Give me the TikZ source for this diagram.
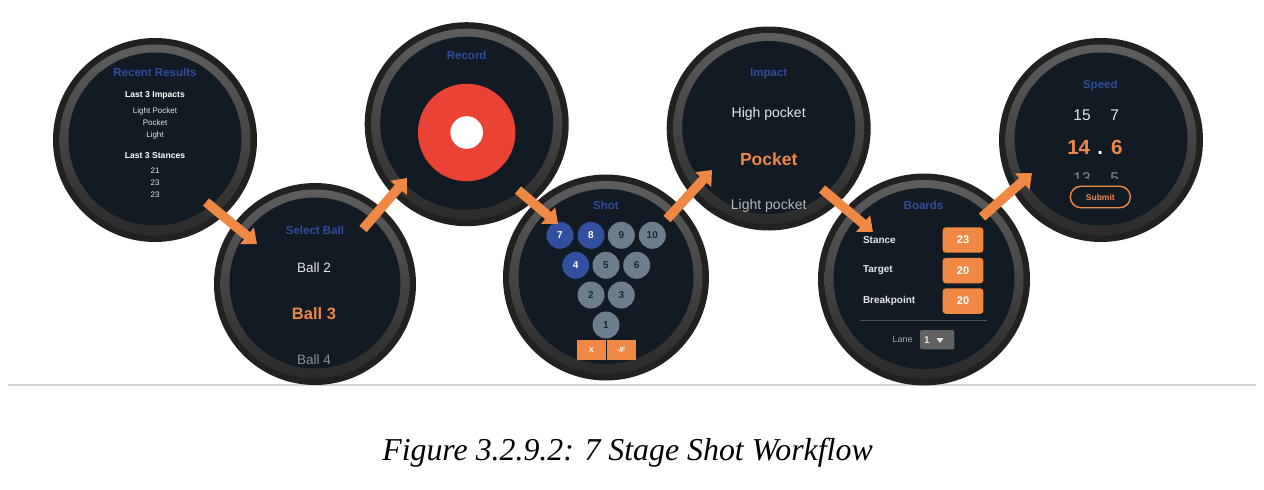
\documentclass[tikz,border=0pt]{standalone}
\usepackage{fontspec}
\setmainfont{Liberation Sans}
\newfontfamily\capfont{Liberation Serif}
\usetikzlibrary{arrows.meta,shapes.geometric}
\definecolor{bezel}{HTML}{212121}
\definecolor{ringtop}{HTML}{5E5E5E}
\definecolor{ringmid}{HTML}{4A4A4A}
\definecolor{ringbot}{HTML}{2A2A2A}
\definecolor{face}{HTML}{121A24}
\definecolor{titleblue}{HTML}{2F4D99}
\definecolor{accent}{HTML}{EE8844}
\definecolor{pingray}{HTML}{6C7D8D}
\definecolor{pinblue}{HTML}{32509F}
\definecolor{pintext}{HTML}{1C2733}
\definecolor{soft}{HTML}{E4E6E8}
\definecolor{dim}{HTML}{8A9096}
\definecolor{tgtred}{HTML}{EA4335}
\tikzset{
  every node/.style={inner sep=0pt,outer sep=0pt},
  bezelc/.style={circle,fill=bezel,draw=none},
  ringc/.style={circle,top color=ringtop,middle color=ringmid,bottom color=ringbot,draw=none},
  facec/.style={circle,fill=face,draw=none},
  wtitle/.style={text=titleblue,font=\fontsize{11.5}{13}\selectfont\bfseries},
  head/.style={text=white,font=\fontsize{8.6}{10}\selectfont\bfseries},
  small/.style={text=soft,font=\fontsize{8}{10}\selectfont},
  pick/.style={text=soft,font=\fontsize{13.5}{15}\selectfont},
  pickdim/.style={text=dim,font=\fontsize{13.5}{15}\selectfont},
  sel/.style={text=accent,font=\fontsize{16.5}{18}\selectfont\bfseries},
  pin/.style={circle,minimum size=27pt,fill=pingray,text=pintext,font=\fontsize{10}{12}\selectfont\bfseries},
  pinon/.style={circle,minimum size=27pt,fill=pinblue,text=white,font=\fontsize{10}{12}\selectfont\bfseries},
  keybtn/.style={rectangle,fill=accent,text=white,minimum height=19.7pt,minimum width=29.3pt,font=\fontsize{7}{8}\selectfont\bfseries},
  rowlab/.style={anchor=west,text=soft,font=\fontsize{10}{12}\selectfont\bfseries},
  valbtn/.style={rectangle,rounded corners=3pt,fill=accent,text=white,minimum width=40.6pt,minimum height=25.4pt,font=\fontsize{11}{13}\selectfont\bfseries},
  flow/.style={draw=accent,line width=9.5pt,-{Triangle[length=13pt,width=21pt]}}
}
\newcommand{\watch}[4]{%
  \node[bezelc,minimum size=#4*2pt] (#1) at (#2,#3) {};
  \node[ringc,minimum size=(#4-6.5)*2pt] (#1ring) at (#2,#3) {};
  \node[facec,minimum size=(#4-15.5)*2pt] (#1face) at (#2,#3-1) {};
}
\begin{document}
\begin{tikzpicture}[x=1pt,y=-1pt]
\useasboundingbox (0,0) rectangle (1264,490);
\fill[white] (0,0) rectangle (1264,490);
% rule
\coordinate (ruleL) at (8,385);
\coordinate (ruleR) at (1256,385);
\draw[draw=black!17,line width=1.2pt] (ruleL) -- (ruleR);
% upper watches
\watch{recent}{155}{140}{102}
\watch{record}{466.7}{124.2}{102}
\watch{impact}{768.7}{128.5}{102}
\watch{speed}{1101}{140}{102}
% lower watches
\watch{ball}{315}{284}{101}
\watch{shot}{606}{277.5}{103}
\watch{boards}{924}{279.5}{106}
% recent results
\node[wtitle] (t1) at (155,72) {Recent Results};
\node[head] (t1a) at (155,95.5) {Last 3 Impacts};
\node[small] (t1b) at (155,111) {Light Pocket};
\node[small] (t1c) at (155,123) {Pocket};
\node[small] (t1d) at (155,135.5) {Light};
\node[head] (t1e) at (155,155.5) {Last 3 Stances};
\node[small] (t1f) at (155,171) {21};
\node[small] (t1g) at (155,183) {23};
\node[small] (t1h) at (155,195) {23};
% select ball
\node[wtitle] (t2) at (315,230) {Select Ball};
\node[pick] (t2a) at (314,268) {Ball 2};
\node[sel] (t2b) at (314,314) {Ball 3};
\node[pickdim] (t2c) at (314,360) {Ball 4};
% record
\node[wtitle] (t3) at (466.7,55) {Record};
\node[circle,fill=tgtred,minimum size=97.5pt] (target) at (466.7,132.5) {};
\node[circle,fill=white,minimum size=32.6pt] (bull) at (466.7,132.5) {};
% shot
\node[wtitle] (t4) at (606,205) {Shot};
\node[pinon] (p7) at (560,235.3) {7};
\node[pinon] (p8) at (591,235.3) {8};
\node[pin] (p9) at (621.3,235.3) {9};
\node[pin] (p10) at (652.3,235.3) {10};
\node[pinon] (p4) at (575.7,265.3) {4};
\node[pin] (p5) at (606,265.3) {5};
\node[pin] (p6) at (636.7,265.3) {6};
\node[pin] (p2) at (591,295) {2};
\node[pin] (p3) at (621.3,295) {3};
\node[pin] (p1) at (606,325) {1};
\node[keybtn] (kx) at (591.5,350.2) {X};
\node[keybtn] (kf) at (621.2,350.2) {-/F};
% impact
\node[wtitle] (t5) at (768.7,74) {Impact};
\node[pick,font=\fontsize{14}{16}\selectfont] (t5a) at (768.7,113.5) {High pocket};
\node[sel,font=\fontsize{17.5}{20}\selectfont\bfseries] (t5b) at (768.7,159) {Pocket};
\begin{scope}
\clip (720,195) rectangle (820,212);
\node[pick,text=soft!80!black,font=\fontsize{14}{16}\selectfont] (t5c) at (768.7,206) {Light pocket};
\end{scope}
% boards
\node[wtitle] (t6) at (923.5,205.5) {Boards};
\node[rowlab] (l1) at (863,240) {Stance};
\node[rowlab] (l2) at (863,270.5) {Target};
\node[rowlab] (l3) at (863,301) {Breakpoint};
\node[valbtn] (v1) at (963,240) {23};
\node[valbtn] (v2) at (963,270.6) {20};
\node[valbtn] (v3) at (963,301.1) {20};
\coordinate (sepL) at (860,320);
\coordinate (sepR) at (986.7,320);
\draw[draw=pingray!60!face,line width=0.9pt] (sepL) -- (sepR);
\node[text=dim!80!white,font=\fontsize{9}{11}\selectfont] (lane) at (902.7,339.7) {Lane};
\node[rectangle,rounded corners=2pt,fill=black!62,minimum width=34.3pt,minimum height=19.3pt] (dd) at (937.2,339.7) {};
\node[text=soft,font=\fontsize{10}{12}\selectfont\bfseries] (dd1) at (927,339.7) {1};
\node[isosceles triangle,isosceles triangle apex angle=70,shape border rotate=-90,fill=soft,minimum height=3.6pt,minimum width=7pt] (ddt) at (940,339.9) {};
% speed
\node[wtitle] (t7) at (1100.3,85.3) {Speed};
\node[pick,font=\fontsize{15.5}{18}\selectfont] (s1) at (1082,115.3) {15};
\node[pick,font=\fontsize{15.5}{18}\selectfont] (s2) at (1114.7,115.3) {7};
\node[sel,font=\fontsize{20.5}{23}\selectfont\bfseries] (s3) at (1078.7,147.3) {14};
\node[text=white,font=\fontsize{20.5}{23}\selectfont\bfseries,anchor=base] (s4) at (1100.3,154.5) {.};
\node[sel,font=\fontsize{20.5}{23}\selectfont\bfseries] (s5) at (1116.7,147.3) {6};
\begin{scope}
\clip (1060,160) rectangle (1140,178);
\node[pickdim,font=\fontsize{15.5}{18}\selectfont] (s6) at (1082,178) {13};
\node[pickdim,font=\fontsize{15.5}{18}\selectfont] (s7) at (1114.7,178) {5};
\end{scope}
\node[rectangle,rounded corners=10.7pt,draw=accent,line width=1.4pt,minimum width=60pt,minimum height=21.5pt,text=accent,font=\fontsize{8.5}{10}\selectfont\bfseries] (sub) at (1100.3,197) {Submit};
% flow arrows
\coordinate (a1s) at (206,202);
\coordinate (a1e) at (257,244);
\coordinate (a2s) at (363,229);
\coordinate (a2e) at (407,178);
\coordinate (a3s) at (518,190);
\coordinate (a3e) at (558,224);
\coordinate (a4s) at (667,219);
\coordinate (a4e) at (712,170);
\coordinate (a5s) at (822,189);
\coordinate (a5e) at (873,232);
\coordinate (a6s) at (982,217);
\coordinate (a6e) at (1032,173);
\draw[flow] (a1s) -- (a1e);
\draw[flow] (a2s) -- (a2e);
\draw[flow] (a3s) -- (a3e);
\draw[flow] (a4s) -- (a4e);
\draw[flow] (a5s) -- (a5e);
\draw[flow] (a6s) -- (a6e);
% caption
\node[text=black,anchor=base,font=\capfont\fontsize{31.85}{36}\selectfont\itshape] (cap) at (627.5,460) {Figure 3.2.9.2: 7 Stage Shot Workflow};
\end{tikzpicture}
\end{document}
